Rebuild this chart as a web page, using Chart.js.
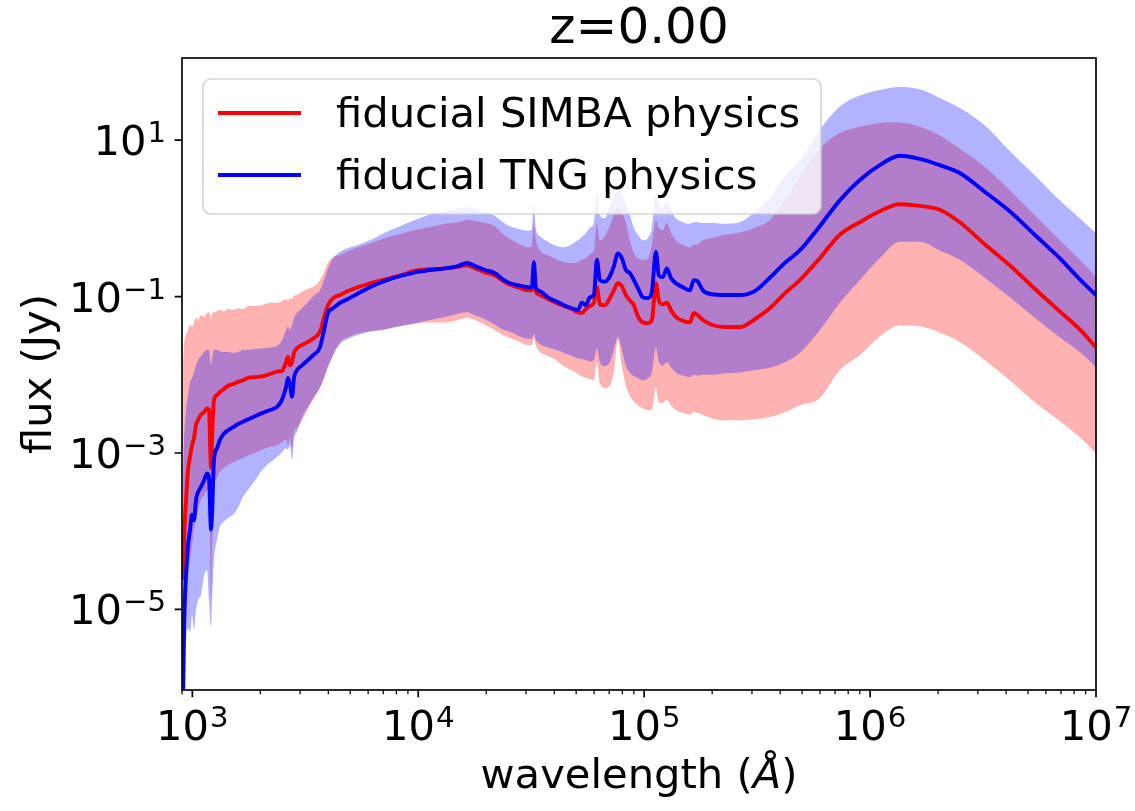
<!DOCTYPE html>
<html>
<head>
<meta charset="utf-8">
<script src="https://cdn.jsdelivr.net/npm/chart.js@4.4.1/dist/chart.umd.min.js"></script>
<style>
html,body{margin:0;padding:0;background:#ffffff;}
#wrap{width:1135px;height:811px;}
</style>
</head>
<body>
<div id="wrap"><canvas id="c" width="1135" height="811"></canvas></div>
<script>
// wavelength grid (Angstrom)
const wavelength = [
  910, 919, 938, 957, 977, 997, 1017, 1038, 1060, 1093,
  1127, 1162, 1185, 1210, 1222, 1247, 1286, 1326, 1381, 1439,
  1515, 1593, 1676, 1764, 1894, 2034, 2207, 2371, 2494, 2598,
  2651, 2706, 2762, 2818, 2906, 3058, 3251, 3455, 3673, 3825,
  3985, 4195, 4503, 4886, 5410, 6114, 7123, 8299, 9669, 11270,
  13130, 14990, 16420, 17820, 19740, 21850, 23700, 25450, 28180, 30570,
  31840, 32500, 33170, 34560, 37490, 40670, 44130, 47870, 50880, 53000,
  55210, 57500, 59900, 61770, 63680, 67010, 70520, 73450, 76500, 79670,
  82990, 86440, 90040, 93780, 98680, 103900, 108200, 112700, 116100, 121000,
  126000, 131200, 138100, 148300, 159300, 165900, 172900, 181900, 199300, 227600,
  265100, 308900, 359900, 419400, 488600, 599000, 734500, 900400, 1104000, 1353000,
  1659000, 2034000, 2494000, 3217000, 4150000, 5356000, 6909000, 8474000, 10000000
];

// log10 of flux (Jy)
const simbaMedianLog = [
  -4.62, -4.11, -3.60, -3.22, -3.05, -2.90, -2.81, -2.64, -2.58, -2.51,
  -2.48, -2.43, -2.45, -3.19, -2.83, -2.32, -2.26, -2.22, -2.18, -2.14,
  -2.12, -2.09, -2.07, -2.04, -2.03, -2.02, -1.99, -1.96, -1.95, -1.84,
  -1.77, -1.88, -1.84, -1.72, -1.66, -1.62, -1.58, -1.53, -1.45, -1.27,
  -1.11, -1.02, -0.98, -0.93, -0.88, -0.83, -0.78, -0.73, -0.67, -0.65,
  -0.64, -0.62, -0.60, -0.64, -0.69, -0.73, -0.80, -0.85, -0.89, -0.92,
  -0.92, -0.79, -0.94, -0.98, -1.03, -1.08, -1.12, -1.16, -1.20, -1.21,
  -1.16, -1.12, -1.08, -0.88, -1.10, -1.11, -1.02, -0.92, -0.83, -0.87,
  -0.98, -1.05, -1.11, -1.25, -1.33, -1.34, -1.30, -0.83, -1.05, -1.10,
  -1.08, -1.17, -1.26, -1.31, -1.33, -1.21, -1.24, -1.30, -1.36, -1.39,
  -1.39, -1.29, -1.15, -0.96, -0.79, -0.51, -0.21, -0.05, 0.09, 0.18,
  0.16, 0.11, -0.05, -0.33, -0.60, -0.90, -1.19, -1.42, -1.65
];
const simbaLowLog = [
  -4.88, -4.88, -4.75, -4.56, -4.37, -4.18, -3.98, -3.86, -3.73, -3.60,
  -3.54, -3.47, -3.45, -4.88, -4.37, -3.47, -3.32, -3.24, -3.19, -3.15,
  -3.12, -3.09, -3.06, -3.03, -3.00, -2.96, -2.92, -2.90, -2.86, -2.83,
  -2.90, -2.81, -2.96, -2.73, -2.68, -2.58, -2.43, -2.30, -2.17, -2.04,
  -1.91, -1.75, -1.58, -1.52, -1.47, -1.44, -1.42, -1.38, -1.35, -1.33,
  -1.33, -1.30, -1.27, -1.30, -1.36, -1.43, -1.49, -1.53, -1.58, -1.62,
  -1.62, -1.53, -1.63, -1.71, -1.76, -1.81, -1.89, -1.94, -1.99, -2.02,
  -2.04, -2.05, -2.07, -1.84, -2.10, -2.17, -2.14, -1.96, -1.56, -1.89,
  -2.14, -2.27, -2.34, -2.39, -2.43, -2.45, -2.45, -2.17, -2.35, -2.36,
  -2.32, -2.39, -2.45, -2.49, -2.51, -2.48, -2.49, -2.51, -2.56, -2.58,
  -2.58, -2.57, -2.54, -2.48, -2.39, -2.30, -1.94, -1.75, -1.51, -1.37,
  -1.38, -1.46, -1.58, -1.81, -2.07, -2.35, -2.59, -2.80, -3.00
];
const simbaHighLog = [
  -1.88, -1.62, -1.49, -1.43, -1.36, -1.39, -1.33, -1.27, -1.30, -1.24,
  -1.26, -1.21, -1.20, -1.27, -1.22, -1.20, -1.19, -1.17, -1.19, -1.16,
  -1.17, -1.15, -1.16, -1.12, -1.12, -1.11, -1.08, -1.08, -1.06, -1.03,
  -1.05, -1.02, -1.03, -0.99, -0.98, -0.94, -0.90, -0.87, -0.79, -0.69,
  -0.56, -0.50, -0.47, -0.42, -0.37, -0.32, -0.25, -0.20, -0.15, -0.11,
  -0.07, -0.05, -0.02, -0.03, -0.06, -0.10, -0.20, -0.26, -0.33, -0.37,
  -0.35, -0.06, -0.28, -0.41, -0.47, -0.52, -0.56, -0.57, -0.56, -0.53,
  -0.51, -0.46, -0.41, -0.07, -0.28, -0.23, -0.09, 0.04, 0.14, 0.08,
  -0.05, -0.28, -0.44, -0.51, -0.53, -0.51, -0.34, -0.02, -0.12, -0.15,
  -0.06, -0.18, -0.28, -0.34, -0.37, -0.34, -0.33, -0.28, -0.25, -0.21,
  -0.18, -0.12, -0.02, 0.23, 0.53, 0.89, 1.09, 1.17, 1.22, 1.23,
  1.17, 1.06, 0.89, 0.66, 0.36, 0.04, -0.28, -0.53, -0.75
];
const tngMedianLog = [
  -6.20, -5.26, -4.56, -4.18, -3.98, -3.79, -3.86, -3.60, -3.50, -3.43,
  -3.35, -3.26, -3.32, -3.98, -3.79, -3.09, -2.94, -2.83, -2.75, -2.71,
  -2.67, -2.63, -2.60, -2.57, -2.53, -2.49, -2.45, -2.41, -2.32, -2.16,
  -2.04, -2.13, -2.28, -2.04, -1.94, -1.88, -1.81, -1.74, -1.65, -1.43,
  -1.21, -1.15, -1.08, -1.03, -0.96, -0.88, -0.80, -0.74, -0.69, -0.66,
  -0.64, -0.61, -0.57, -0.61, -0.66, -0.70, -0.78, -0.83, -0.86, -0.88,
  -0.88, -0.56, -0.89, -0.93, -1.01, -1.06, -1.11, -1.15, -1.17, -1.08,
  -1.11, -1.01, -0.98, -0.53, -0.79, -0.81, -0.74, -0.61, -0.45, -0.51,
  -0.66, -0.70, -0.79, -0.89, -1.01, -1.02, -0.94, -0.43, -0.73, -0.75,
  -0.64, -0.76, -0.83, -0.88, -0.92, -0.79, -0.81, -0.92, -0.97, -0.98,
  -0.98, -0.93, -0.76, -0.57, -0.41, -0.10, 0.23, 0.49, 0.68, 0.80,
  0.76, 0.68, 0.58, 0.34, 0.09, -0.21, -0.51, -0.78, -0.98
];
const tngLowLog = [
  -6.20, -5.90, -5.39, -5.24, -5.29, -5.07, -5.26, -5.01, -4.88, -4.81,
  -4.56, -4.50, -4.88, -5.22, -4.88, -4.37, -4.11, -3.94, -3.88, -3.83,
  -3.79, -3.70, -3.56, -3.47, -3.35, -3.22, -3.12, -3.05, -2.99, -2.94,
  -2.96, -2.90, -3.09, -2.83, -2.73, -2.55, -2.41, -2.28, -2.16, -2.04,
  -1.89, -1.75, -1.61, -1.54, -1.49, -1.45, -1.42, -1.38, -1.34, -1.30,
  -1.26, -1.22, -1.20, -1.24, -1.29, -1.36, -1.42, -1.45, -1.51, -1.54,
  -1.54, -1.48, -1.56, -1.61, -1.65, -1.68, -1.72, -1.76, -1.79, -1.80,
  -1.81, -1.83, -1.81, -1.66, -1.84, -1.89, -1.84, -1.68, -1.52, -1.68,
  -1.89, -1.97, -2.02, -2.04, -2.07, -2.04, -1.97, -1.65, -1.84, -1.88,
  -1.84, -1.90, -1.97, -2.01, -2.03, -2.00, -2.01, -2.00, -2.00, -1.98,
  -1.97, -1.94, -1.91, -1.84, -1.72, -1.43, -1.08, -0.79, -0.51, -0.30,
  -0.30, -0.41, -0.53, -0.76, -1.01, -1.27, -1.52, -1.71, -1.90
];
const tngHighLog = [
  -3.22, -2.83, -2.45, -2.26, -2.09, -2.04, -1.97, -1.88, -1.81, -1.76,
  -1.71, -1.68, -1.68, -1.88, -1.79, -1.68, -1.68, -1.70, -1.71, -1.71,
  -1.72, -1.71, -1.68, -1.68, -1.67, -1.66, -1.65, -1.63, -1.56, -1.43,
  -1.38, -1.43, -1.36, -1.27, -1.21, -1.15, -1.07, -0.99, -0.92, -0.79,
  -0.64, -0.51, -0.43, -0.38, -0.34, -0.28, -0.18, -0.10, -0.02, 0.05,
  0.09, 0.13, 0.14, 0.12, 0.08, 0.03, -0.05, -0.10, -0.14, -0.16,
  -0.14, 0.19, -0.13, -0.23, -0.30, -0.35, -0.37, -0.33, -0.28, -0.24,
  -0.19, -0.12, -0.07, 0.33, 0.04, 0.00, 0.17, 0.28, 0.36, 0.30,
  0.17, 0.04, -0.12, -0.21, -0.28, -0.25, -0.12, 0.32, 0.17, 0.14,
  0.23, 0.11, 0.00, -0.05, -0.07, -0.05, -0.05, -0.06, -0.06, -0.07,
  -0.05, 0.08, 0.26, 0.54, 0.74, 1.13, 1.43, 1.57, 1.64, 1.68,
  1.65, 1.54, 1.41, 1.19, 0.86, 0.55, 0.23, 0.00, -0.19
];

// axis tick labels
const xTickValues = [1e3, 1e4, 1e5, 1e6, 1e7];
const xTickExponents = ['3', '4', '5', '6', '7'];
const yTickValues = [1e1, 1e-1, 1e-3, 1e-5];
const yTickExponents = ['1', '\u22121', '\u22123', '\u22125'];
const seriesLabels = ['fiducial SIMBA physics', 'fiducial TNG physics'];
const titleText = 'z=0.00';
const xTitleParts = ['wavelength (', '\u00c5', ')'];
const yTitle = 'flux (Jy)';

const FONT = '"DejaVu Sans", "Liberation Sans", sans-serif';
const RED = '#ff0000', BLUE = '#0000ff';
const LW = 3.9;

function pts(logs) { return wavelength.map((w, i) => ({x: w, y: Math.pow(10, logs[i])})); }

function drawPow(ctx, exp, x, y, align) {
  const baseFont = '41.67px ' + FONT, supFont = '29.2px ' + FONT;
  ctx.font = baseFont; const wb = ctx.measureText('10').width;
  ctx.font = supFont; const ws = ctx.measureText(exp).width;
  const total = wb + 1 + ws;
  const x0 = align === 'center' ? x - total / 2 : x - total;
  ctx.textAlign = 'left'; ctx.textBaseline = 'alphabetic'; ctx.fillStyle = '#000';
  ctx.font = baseFont; ctx.fillText('10', x0, y);
  ctx.font = supFont; ctx.fillText(exp, x0 + wb + 1, y - 13);
}

const mplAxes = {
  id: 'mplAxes',
  afterDatasetsDraw(chart) {
    const ctx = chart.ctx, a = chart.chartArea;
    const xs = chart.scales.x, ys = chart.scales.y;
    ctx.save();
    // frame
    ctx.strokeStyle = '#000'; ctx.lineWidth = 1.67;
    ctx.strokeRect(a.left, a.top, a.right - a.left, a.bottom - a.top);
    // x ticks
    ctx.beginPath(); ctx.lineWidth = 1.67;
    xTickValues.forEach(v => { const px = xs.getPixelForValue(v); ctx.moveTo(px, a.bottom); ctx.lineTo(px, a.bottom + 7.3); });
    ctx.stroke();
    ctx.beginPath(); ctx.lineWidth = 1.25;
    for (let e = 2; e <= 6; e++) for (let m = 2; m <= 9; m++) {
      const v = m * Math.pow(10, e);
      if (v < xs.min - 1e-6 || v > xs.max) continue;
      const px = xs.getPixelForValue(v);
      ctx.moveTo(px, a.bottom); ctx.lineTo(px, a.bottom + 4.2);
    }
    ctx.stroke();
    // y ticks
    ctx.beginPath(); ctx.lineWidth = 1.67;
    yTickValues.forEach(v => { const py = ys.getPixelForValue(v); ctx.moveTo(a.left, py); ctx.lineTo(a.left - 7.3, py); });
    ctx.stroke();
    // tick labels
    xTickValues.forEach((v, i) => drawPow(ctx, xTickExponents[i], xs.getPixelForValue(v), 740, 'center'));
    yTickValues.forEach((v, i) => drawPow(ctx, yTickExponents[i], 166, ys.getPixelForValue(v) + 15, 'right'));
    // x axis title with italic Angstrom symbol
    const fn = '41.67px ' + FONT, fi = 'italic 41.67px ' + FONT;
    ctx.font = fn; const w0 = ctx.measureText(xTitleParts[0]).width, w2 = ctx.measureText(xTitleParts[2]).width;
    ctx.font = fi; const w1 = ctx.measureText(xTitleParts[1]).width;
    let tx = (a.left + a.right) / 2 - (w0 + w1 + w2) / 2;
    const tyb = 788;
    ctx.fillStyle = '#000'; ctx.textAlign = 'left'; ctx.textBaseline = 'alphabetic';
    ctx.font = fn; ctx.fillText(xTitleParts[0], tx, tyb); tx += w0;
    ctx.font = fi; ctx.fillText(xTitleParts[1], tx, tyb); tx += w1;
    ctx.font = fn; ctx.fillText(xTitleParts[2], tx, tyb);
    ctx.restore();
  },
  afterDraw(chart) {
    const ctx = chart.ctx;
    ctx.save();
    // legend frame
    const lx = 203, ly = 79, lw = 618, lh = 135, r = 8;
    ctx.beginPath();
    ctx.roundRect(lx, ly, lw, lh, r);
    ctx.fillStyle = 'rgba(255,255,255,0.8)'; ctx.fill();
    ctx.strokeStyle = 'rgba(204,204,204,0.8)'; ctx.lineWidth = 1.67; ctx.stroke();
    const rows = [[RED, 113, 127], [BLUE, 175, 189]];
    rows.forEach((row, i) => {
      ctx.beginPath(); ctx.strokeStyle = row[0]; ctx.lineWidth = LW; ctx.lineCap = 'butt';
      ctx.moveTo(218, row[1]); ctx.lineTo(301, row[1]); ctx.stroke();
      ctx.fillStyle = '#000'; ctx.font = '41.67px ' + FONT; ctx.textAlign = 'left'; ctx.textBaseline = 'alphabetic';
      ctx.fillText(seriesLabels[i], 336, row[2]);
    });
    ctx.restore();
  }
};

new Chart(document.getElementById('c'), {
  type: 'line',
  data: {
    datasets: [
      {label: seriesLabels[1], data: pts(tngMedianLog), borderColor: BLUE, borderWidth: LW, fill: false},
      {label: seriesLabels[0], data: pts(simbaMedianLog), borderColor: RED, borderWidth: LW, fill: false},
      {label: 'tng low', data: pts(tngLowLog), borderWidth: 0, borderColor: 'rgba(0,0,0,0)', fill: false},
      {label: 'tng high', data: pts(tngHighLog), borderWidth: 0, borderColor: 'rgba(0,0,0,0)', backgroundColor: 'rgba(0,0,255,0.3)', fill: '-1'},
      {label: 'simba low', data: pts(simbaLowLog), borderWidth: 0, borderColor: 'rgba(0,0,0,0)', fill: false},
      {label: 'simba high', data: pts(simbaHighLog), borderWidth: 0, borderColor: 'rgba(0,0,0,0)', backgroundColor: 'rgba(255,0,0,0.3)', fill: '-1'}
    ]
  },
  options: {
    responsive: false,
    animation: false,
    devicePixelRatio: 1,
    layout: {padding: {left: 0, right: 39, top: 0, bottom: 0}},
    elements: {point: {radius: 0}, line: {cubicInterpolationMode: 'monotone', borderJoinStyle: 'round', borderCapStyle: 'butt'}},
    plugins: {
      legend: {display: false},
      tooltip: {enabled: false},
      title: {display: true, fullSize: false, text: titleText, color: '#000',
        font: {family: FONT, size: 50, weight: 'normal', lineHeight: 1},
        padding: {top: 5, bottom: 3}}
    },
    scales: {
      x: {
        type: 'logarithmic', position: 'bottom', min: 900, max: 1e7,
        grid: {display: false, drawTicks: false}, border: {display: false},
        ticks: {display: false},
        title: {display: false},
        afterFit(s) { s.height = 121; }
      },
      y: {
        type: 'logarithmic', position: 'left', min: Math.pow(10, -6.03), max: Math.pow(10, 2.05),
        grid: {display: false, drawTicks: false}, border: {display: false},
        ticks: {display: false},
        title: {display: true, text: yTitle, color: '#000',
          font: {family: FONT, size: 41.67, weight: 'normal', lineHeight: 1.2},
          padding: {top: 15, bottom: 0}},
        afterFit(s) { s.width = 182; }
      }
    }
  },
  plugins: [mplAxes]
});
</script>
</body>
</html>
